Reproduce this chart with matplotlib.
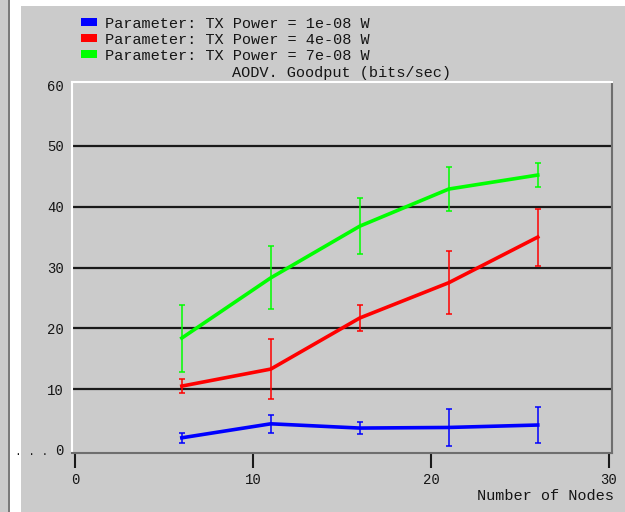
import matplotlib.pyplot as plt
import matplotlib.patches as patches

# data
nodes = [6, 11, 16, 21, 26]
series_labels = ['Parameter: TX Power = 1e-08 W',
                 'Parameter: TX Power = 4e-08 W',
                 'Parameter: TX Power = 7e-08 W']
goodput_1e08 = [2.0, 4.3, 3.6, 3.7, 4.1]
err_1e08 = [0.8, 1.5, 1.0, 3.0, 3.0]
goodput_4e08 = [10.5, 13.3, 21.7, 27.5, 35.0]
err_4e08 = [1.1, 5.0, 2.2, 5.2, 4.7]
goodput_7e08 = [18.4, 28.3, 36.8, 42.9, 45.2]
err_7e08 = [5.5, 5.2, 4.6, 3.6, 1.9]
colors = ['#0000ff', '#ff0000', '#00ff00']
xticks = [0, 10, 20, 30]
yticks = [0, 10, 20, 30, 40, 50, 60]

W, H = 625, 512
bg = '#cbcbcb'
font = 'Liberation Mono'
txt = '#151515'

fig = plt.figure(figsize=(W / 100, H / 100), dpi=100)
fig.patch.set_facecolor(bg)

# window decoration: left strip and top band
fig.add_artist(patches.Rectangle((9 / W, 0), 12 / W, 1, transform=fig.transFigure,
                                 facecolor='white', edgecolor='none'))
fig.add_artist(patches.Rectangle((8 / W, 0), 1.5 / W, 1, transform=fig.transFigure,
                                 facecolor='#7a7a7a', edgecolor='none'))
fig.add_artist(patches.Rectangle((21 / W, 1 - 6 / H), 1, 6 / H, transform=fig.transFigure,
                                 facecolor='white', edgecolor='none'))

def px(x, y):
    return x / W, 1 - y / H

# plot area
left, top, right, bottom = 72, 82, 612, 453
ax = fig.add_axes([left / W, 1 - bottom / H, (right - left) / W, (bottom - top) / H])
ax.set_facecolor(bg)
ax.set_xlim(-0.17, 30.17)
ax.set_ylim(-0.5, 60.5)

for v in yticks[1:-1]:
    ax.axhline(v, color='#1a1a1a', lw=1.6, zorder=1)

all_y = [goodput_1e08, goodput_4e08, goodput_7e08]
all_e = [err_1e08, err_4e08, err_7e08]
for yv, ev, c in zip(all_y, all_e, colors):
    ax.errorbar(nodes, yv, yerr=ev, color=c, lw=2.6, elinewidth=1.1,
                capsize=2.5, capthick=1.1, zorder=3)

ax.spines['left'].set_color('white')
ax.spines['top'].set_color('white')
ax.spines['right'].set_color('#6e6e6e')
ax.spines['bottom'].set_color('#6e6e6e')
for s in ax.spines.values():
    s.set_linewidth(1.5)

ax.set_xticks(xticks)
ax.set_yticks(yticks)
ax.tick_params(axis='x', direction='out', length=10.5, width=1.5, color='#1a1a1a',
               pad=4, labelsize=10)
ax.tick_params(axis='y', length=0, pad=6, labelsize=10)
for lab in ax.get_xticklabels() + ax.get_yticklabels():
    lab.set_fontfamily(font)
    lab.set_color(txt)

# legend
for i, (lab, c) in enumerate(zip(series_labels, colors)):
    yc = 22 + 16 * i
    fig.add_artist(patches.Rectangle(px(81, yc + 4), 16 / W, 8 / H, transform=fig.transFigure,
                                     facecolor=c, edgecolor='none'))
    fig.text(*px(105, yc + 2), lab, fontfamily=font, fontsize=11,
             color=txt, va='center', ha='left')

fig.text(*px(341, 73), 'AODV. Goodput (bits/sec)', fontfamily=font,
         fontsize=11, color=txt, va='center', ha='center')
fig.text(*px(614, 496), 'Number of Nodes', fontfamily=font, fontsize=11,
         color=txt, va='center', ha='right')
fig.text(*px(32, 452), '. . .', fontfamily=font, fontsize=8, color=txt,
         va='center', ha='center')

fig.savefig('out.png', dpi=100, facecolor=fig.get_facecolor())
